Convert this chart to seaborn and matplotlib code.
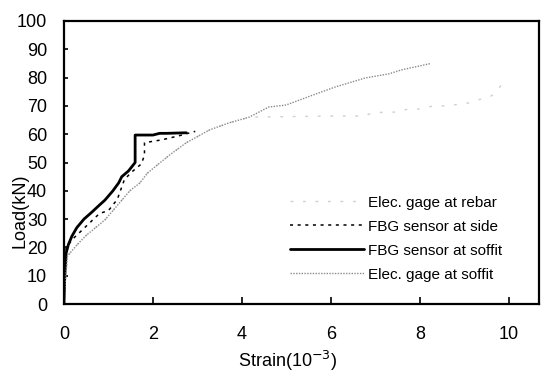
"""Load vs strain: FBG sensors and electrical gages."""

import matplotlib

matplotlib.use("Agg")
import matplotlib.pyplot as plt
import pandas as pd
import seaborn as sns

sns.set_theme(style="white")
plt.rcParams["font.family"] = ["Liberation Sans", "DejaVu Sans"]
plt.rcParams.update({"text.color": "black", "axes.labelcolor": "black",
                     "xtick.color": "black", "ytick.color": "black"})

# --- data (strain in 10^-3, load in kN) ---
REBAR_X = [0.0, 0.03, 0.08, 0.3, 0.51, 0.92, 1.1, 1.48, 1.7, 1.88, 2.15, 2.37,
           2.75, 3.27, 3.71, 4.16, 5.88, 6.17, 6.44, 6.69, 6.96, 7.22, 7.47,
           7.74, 8.0, 8.3, 8.57, 9.08, 9.6, 9.7, 9.87]
REBAR_Y = [0.0, 8.0, 17.0, 21.0, 24.4, 29.7, 33.0, 40.0, 42.7, 46.3, 49.8, 52.6,
           57.0, 61.5, 64.0, 66.0, 66.4, 66.4, 66.4, 66.4, 67.5, 67.8, 67.8,
           68.9, 68.9, 70.0, 70.0, 71.0, 73.5, 74.6, 78.4]

SIDE_X = [0.0, 0.02, 0.05, 0.2, 0.4, 0.6, 0.8, 1.0, 1.2, 1.36, 1.52, 1.74, 1.81,
          1.81, 2.2, 2.6, 2.95]
SIDE_Y = [0.0, 12.0, 20.0, 23.0, 26.0, 29.0, 32.0, 33.0, 37.0, 44.0, 46.6, 49.5, 52.6,
          57.0, 58.0, 59.5, 61.0]

SOFFIT_FBG_X = [0.0, 0.02, 0.05, 0.1, 0.18, 0.29, 0.45, 0.63, 0.8, 0.92, 1.1, 1.23,
                1.3, 1.45, 1.6, 1.6, 1.6, 2.0, 2.15, 2.3, 2.75]
SOFFIT_FBG_Y = [0.0, 10.0, 18.0, 21.0, 24.0, 27.0, 30.0, 32.5, 35.0, 36.7, 40.0, 42.8,
                45.0, 47.0, 50.0, 55.0, 59.7, 59.7, 60.3, 60.3, 60.5]

SOFFIT_EG_X = [0.0, 0.03, 0.08, 0.3, 0.51, 0.92, 1.1, 1.48, 1.7, 1.88, 2.15, 2.37,
               2.75, 3.27, 3.71, 4.16, 4.6, 4.99, 5.66, 6.1, 6.78, 7.3, 7.58, 8.25]
SOFFIT_EG_Y = [0.0, 8.0, 17.0, 21.0, 24.4, 29.7, 33.0, 40.0, 42.7, 46.3, 49.8, 52.6,
               57.0, 61.5, 64.0, 66.0, 69.6, 70.3, 74.2, 76.7, 79.9, 81.3, 82.7, 85.0]

LABELS = ["Elec. gage at rebar", "FBG sensor at side",
          "FBG sensor at soffit", "Elec. gage at soffit"]
X_TICKS = [0, 2, 4, 6, 8, 10]
Y_TICKS = list(range(0, 101, 10))


def main() -> None:
    parts = []
    for lab, xs, ys in zip(LABELS,
                           [REBAR_X, SIDE_X, SOFFIT_FBG_X, SOFFIT_EG_X],
                           [REBAR_Y, SIDE_Y, SOFFIT_FBG_Y, SOFFIT_EG_Y]):
        parts.append(pd.DataFrame({"strain": xs, "load": ys, "series": lab}))
    df = pd.concat(parts, ignore_index=True)

    fig = plt.figure(figsize=(5.51, 3.74), dpi=100)
    ax = fig.add_axes([0.116, 0.187, 0.862, 0.757])

    styles = {
        LABELS[0]: dict(color="#d0d0d0", lw=1.0, ls=(0, (2, 7))),
        LABELS[1]: dict(color="black", lw=1.1, ls=(0, (2, 3))),
        LABELS[2]: dict(color="black", lw=2.0, ls="-"),
        LABELS[3]: dict(color="#8a8a8a", lw=1.0, ls=(0, (1, 1))),
    }
    for lab in LABELS:
        st = styles[lab]
        sns.lineplot(data=df[df["series"] == lab], x="strain", y="load",
                     sort=False, estimator=None, ax=ax, label=lab,
                     color=st["color"], linewidth=st["lw"], linestyle=st["ls"])

    ax.set_xlim(0, 10.67)
    ax.set_ylim(0, 100)
    ax.set_xticks(X_TICKS)
    ax.set_yticks(Y_TICKS)
    ax.tick_params(axis="x", direction="in", length=5, width=1.2, pad=16,
                   labelsize=13, bottom=True)
    ax.tick_params(axis="y", direction="in", length=3, width=1.2, pad=12,
                   labelsize=13, left=True)
    for sp in ax.spines.values():
        sp.set_visible(True)
        sp.set_color("black")
        sp.set_linewidth(1.6)

    ax.set_xlabel("Strain(10$^{-3}$)", fontsize=13)
    ax.set_ylabel("Load(kN)", fontsize=13)
    ax.xaxis.set_label_coords(0.47, -0.158)
    ax.yaxis.set_label_coords(-0.075, 0.33)

    leg = ax.legend(loc="lower right", bbox_to_anchor=(0.952, 0.03), frameon=False,
                    fontsize=11, handlelength=4.8, handletextpad=0.3,
                    labelspacing=0.66)
    leg.set_zorder(5)

    fig.savefig("out.png", dpi=100)
    plt.close(fig)


if __name__ == "__main__":
    main()
